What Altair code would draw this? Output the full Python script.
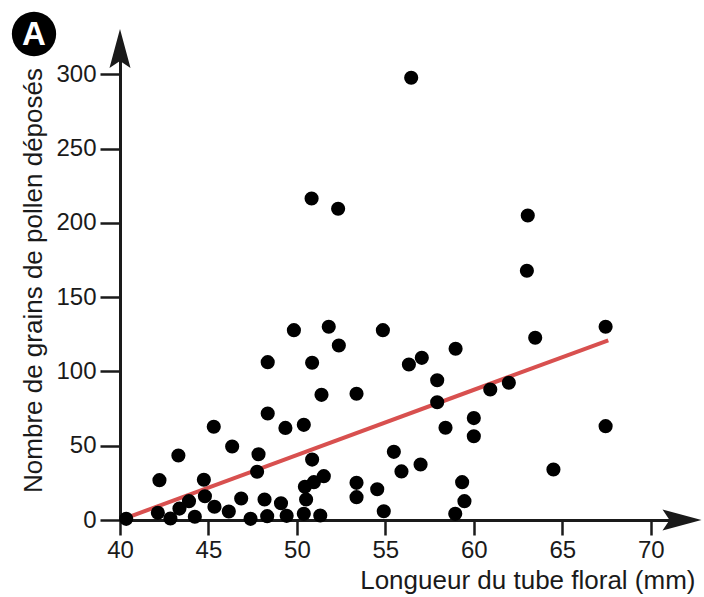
import altair as alt
import pandas as pd

# ---------------- data ----------------
tube_mm = [40.35, 49.83, 48.35, 48.35, 49.35, 45.3, 46.34, 43.3, 47.83, 47.75,
           42.23, 44.74, 44.8, 43.9, 43.36, 42.14, 42.85, 44.23, 45.34, 46.15,
           46.85, 47.38, 48.17, 48.32, 49.1, 49.42, 51.8, 54.86, 52.37, 50.86,
           58.97, 57.06, 56.33, 57.93, 57.93, 51.39, 53.37, 50.39, 58.4, 60.0,
           60.0, 50.86, 55.48, 56.99, 55.91, 51.52, 50.96, 50.45, 50.52, 53.37,
           53.37, 54.54, 50.39, 51.32, 54.91, 59.34, 59.47, 58.95, 63.47, 67.45,
           67.45, 61.98, 60.93, 64.5, 56.46, 50.83, 52.33, 63.05, 63.0]
pollen = [0.8, 127.8, 106.3, 71.7, 62.0, 62.8, 49.5, 43.4, 44.3, 32.5,
          26.8, 27.1, 16.0, 12.7, 7.7, 4.8, 1.0, 2.2, 8.9, 5.7,
          14.5, 0.8, 13.8, 2.6, 11.3, 2.8, 130.1, 127.8, 117.5, 105.9,
          115.3, 109.2, 104.7, 94.1, 79.3, 84.3, 85.0, 64.1, 62.1, 68.6,
          56.4, 40.7, 45.9, 37.4, 32.7, 29.5, 25.5, 22.4, 13.8, 25.0,
          15.4, 20.7, 4.2, 3.0, 5.9, 25.5, 12.7, 4.2, 122.7, 130.1,
          63.2, 92.4, 87.9, 34.0, 297.8, 216.5, 209.6, 205.0, 167.8]

fit_x = [40.1, 67.6]
fit_y = [0.3, 121.0]

x_ticks = [40, 45, 50, 55, 60, 65, 70]
y_ticks = [0, 50, 100, 150, 200, 250, 300]
x_title = "Longueur du tube floral (mm)"
y_title = "Nombre de grains de pollen déposés"
badge = ["A"]

# ---------------- layout / style ----------------
X_MIN, X_MAX = 40, 72.22
Y_MIN, Y_MAX = 0, 323.2
W, H = 570, 480
FONT = "Liberation Sans"
INK = "#1a1a1a"
RED = "#d8504f"

pts = pd.DataFrame({"x": tube_mm, "y": pollen})
fit = pd.DataFrame({"x": fit_x, "y": fit_y})
arrow_x_df = pd.DataFrame({"x": [X_MAX], "y": [Y_MIN]})
arrow_y_df = pd.DataFrame({"x": [X_MIN], "y": [Y_MAX]})
badge_df = pd.DataFrame({"t": badge})

xs = alt.Scale(domain=[X_MIN, X_MAX], nice=False, zero=False)
ys = alt.Scale(domain=[Y_MIN, Y_MAX], nice=False)

x_axis = alt.Axis(
    values=x_ticks, title=x_title, grid=False,
    domainColor=INK, domainWidth=3, tickColor=INK, tickWidth=2.5, tickSize=15,
    labelFont=FONT, labelFontSize=24, labelColor=INK, labelPadding=3,
    labelFlush=False, labelOverlap=False,
    titleFont=FONT, titleFontSize=26, titleFontWeight="normal", titleColor=INK,
    titleAlign="right", titleX=575, titleY=68, titleBaseline="alphabetic",
)
y_axis = alt.Axis(
    values=y_ticks, title=y_title, grid=False,
    domainColor=INK, domainWidth=3, tickColor=INK, tickWidth=2.5, tickSize=20,
    labelFont=FONT, labelFontSize=24, labelColor=INK, labelPadding=4,
    labelFlush=False, labelOverlap=False,
    titleFont=FONT, titleFontSize=26, titleFontWeight="normal", titleColor=INK,
    titleAngle=270, titleX=-87, titleY=240, titleAlign="center", titleBaseline="middle",
)

X = alt.X("x:Q", scale=xs, axis=x_axis)
Y = alt.Y("y:Q", scale=ys, axis=y_axis)

points = alt.Chart(pts).mark_circle(size=200, color="black", opacity=1).encode(x=X, y=Y)

line = alt.Chart(fit).mark_line(color=RED, strokeWidth=4).encode(x=X, y=Y)

ARROW_RIGHT = "M1,0 L-1,-0.54 L-0.64,0 L-1,0.54 Z"
ARROW_UP = "M0,-1 L-0.54,1 L0,0.64 L0.54,1 Z"

arrow_x = alt.Chart(arrow_x_df).mark_point(
    shape=ARROW_RIGHT, size=1521, filled=True, color=INK, opacity=1, xOffset=-8
).encode(x=X, y=Y)
arrow_y = alt.Chart(arrow_y_df).mark_point(
    shape=ARROW_UP, size=1521, filled=True, color=INK, opacity=1, yOffset=8.5
).encode(x=X, y=Y)

badge_circle = alt.Chart(badge_df).mark_circle(size=1963, color="black", opacity=1).encode(
    x=alt.value(-86), y=alt.value(-6)
)
badge_text = alt.Chart(badge_df).mark_text(
    font=FONT, fontSize=33, fontWeight="bold", color="white",
    align="center", baseline="middle", dy=1
).encode(x=alt.value(-86), y=alt.value(-6), text="t:N")

chart = alt.layer(line, points, arrow_x, arrow_y, badge_circle, badge_text).properties(
    width=W, height=H,
    autosize=alt.AutoSizeParams(type="none"),
    padding={"left": 120, "top": 40, "right": 14, "bottom": 77},
    background="white",
).configure_view(stroke=None)

chart.save("out.html", embed_options={"renderer": "svg", "actions": False})
